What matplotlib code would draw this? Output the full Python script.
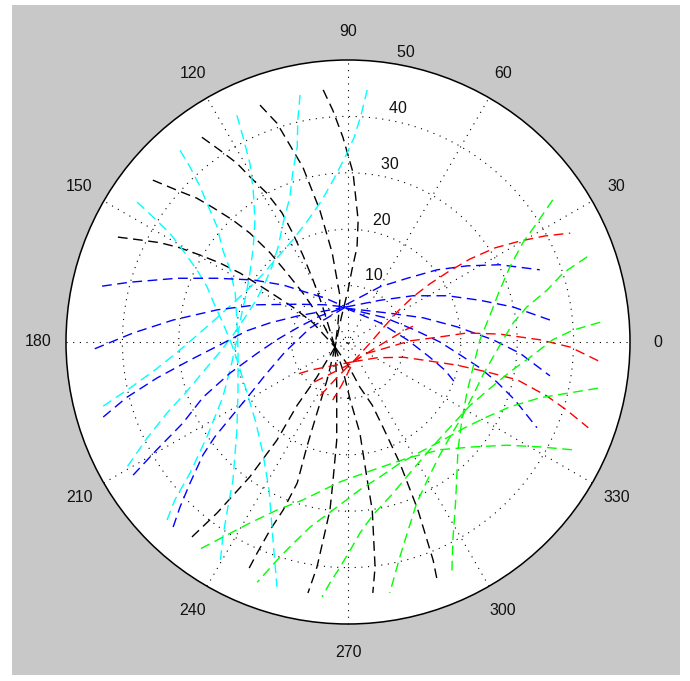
import numpy as np
import matplotlib
matplotlib.use("Agg")
import matplotlib.pyplot as plt
from matplotlib.patches import Rectangle, Circle

# ---------------- data (x = r*cos(theta), y = r*sin(theta), r in polar units) -------------
ring_values = [10, 20, 30, 40]
rmax = 50
spoke_angles = [0, 30, 60, 90, 120, 150]
angle_labels = [0, 30, 60, 90, 120, 150, 180, 210, 240, 270, 300, 330]

black_x = [
    [-4.4, -2.7, -0.9, 0.9, 1.8, 1.6, 0.7, 0.0, -1.2, -2.3],
    [-15.6, -12.6, -10.3, -8.0, -5.0, -2.8, -1.4, -1.8, -2.3],
    [-25.9, -22.7, -19.7, -17.4, -14.4, -11.7, -9.8, -8.0, -6.2, -4.6, -2.3],
    [-34.6, -30.3, -26.8, -23.9, -20.4, -17.4, -13.8, -10.8, -8.0, -5.0, -2.3],
    [-40.8, -36.9, -33.3, -29.8, -26.2, -22.7, -19.1, -14.4, -9.8, -6.2, -2.3],
    [-2.3, -0.9, 0.4, 2.1, 3.5, 4.3, 4.8, 4.4],
    [-2.3, 0.0, 2.1, 4.3, 6.2, 9.2, 12.4, 15.1, 15.8],
    [-2.3, -5.5, -9.0, -12.6, -17.4, -23.2, -27.7],
    [-2.3, -3.7, -5.5, -7.3, -9.0, -11.5, -13.8, -16.1, -17.9],
    [-2.3, -2.0, -2.0, -2.7, -3.2, -4.4, -5.5, -7.1],
]
black_y = [
    [44.7, 41.1, 36.3, 30.0, 21.6, 16.8, 12.8, 9.2, 4.3, -0.9],
    [42.0, 38.8, 34.9, 31.0, 23.4, 15.8, 8.0, 3.0, -0.9],
    [36.3, 34.0, 31.7, 29.3, 26.4, 22.9, 19.3, 15.4, 11.0, 6.6, -0.9],
    [28.7, 26.9, 25.5, 23.8, 21.6, 19.3, 15.8, 12.2, 8.7, 4.3, -0.9],
    [18.6, 18.1, 17.6, 16.7, 15.4, 14.0, 12.2, 9.2, 6.2, 3.4, -0.9],
    [-0.9, -5.0, -10.3, -16.1, -25.0, -29.8, -39.9, -44.5],
    [-0.9, -4.1, -8.0, -11.2, -15.1, -21.5, -29.8, -38.7, -42.2],
    [-0.9, -6.2, -11.2, -17.4, -23.9, -30.3, -34.6],
    [-0.9, -6.7, -12.6, -18.6, -25.0, -29.8, -33.3, -37.4, -40.8],
    [-0.9, -7.3, -17.4, -25.0, -29.8, -35.1, -39.9, -44.5],
]

cyan_x = [
    [3.4, 2.3, 1.1, -0.5, -2.3, -4.6, -7.1, -9.8, -12.6, -15.2, -18.1, -20.9, -23.9, -27.1, -30.5, -34.0, -38.7, -43.6],
    [-8.5, -8.9, -9.0, -9.8, -10.3, -11.5, -12.4, -13.5, -14.7, -16.3, -18.3, -20.4, -22.9, -25.7, -28.7, -32.1, -35.6, -39.2],
    [-19.7, -18.6, -17.4, -16.8, -16.5, -16.8, -17.4, -18.1, -19.0, -19.7, -20.6, -22.2, -25.0, -28.0, -30.7, -32.1],
    [-29.8, -28.0, -26.2, -25.0, -23.2, -22.2, -20.9, -20.0, -19.7, -19.5, -19.5, -19.7, -20.4, -21.3, -22.2, -22.7],
    [-37.4, -34.6, -31.6, -29.3, -26.8, -25.0, -23.8, -22.2, -20.7, -19.5, -17.9, -16.3, -15.1, -14.0, -13.3, -12.6],
]
cyan_y = [
    [44.7, 40.2, 36.3, 32.8, 29.3, 25.2, 21.6, 18.1, 14.9, 11.9, 9.0, 6.4, 3.7, 0.9, -2.0, -4.8, -8.2, -11.5],
    [43.8, 39.4, 34.6, 30.0, 25.7, 21.1, 16.8, 13.3, 10.5, 7.4, 4.3, 1.2, -2.0, -5.3, -8.9, -12.6, -17.0, -22.2],
    [40.2, 36.3, 31.7, 26.9, 21.6, 16.8, 12.2, 8.3, 4.3, 0.4, -3.7, -9.8, -16.8, -23.2, -28.0, -31.6],
    [34.0, 31.0, 27.5, 24.6, 20.4, 16.3, 12.8, 8.7, 3.9, -1.4, -8.5, -15.6, -24.5, -29.3, -34.6, -39.5],
    [24.8, 22.2, 19.3, 16.3, 12.8, 9.8, 6.9, 3.4, -0.2, -3.7, -9.0, -14.4, -19.7, -26.2, -35.1, -43.4],
]

blue_x = [
    [-43.6, -38.7, -30.3, -23.2, -16.8, -11.5, -8.0, -4.1, -0.4],
    [-44.9, -38.1, -31.0, -23.2, -16.1, -9.0, -4.1, -0.4],
    [-43.4, -39.2, -33.9, -28.0, -22.7, -17.9, -13.8, -9.0, -0.4],
    [-38.1, -33.9, -29.3, -25.7, -20.9, -16.1, -12.6, -9.0, -5.0, -0.4],
    [-31.0, -29.8, -28.0, -25.7, -23.6, -20.9, -17.9, -14.7, -11.2, -6.7, -0.4],
    [-0.4, 5.7, 10.5, 15.8, 21.1, 26.9, 34.0],
    [-0.4, 5.7, 11.5, 17.6, 23.4, 29.3, 35.8],
    [-0.4, 7.4, 13.3, 19.3, 25.7, 30.5, 35.8],
    [-0.4, 5.7, 10.5, 14.5, 17.2, 19.3],
    [-0.4, 6.6, 11.9, 16.3, 19.9, 23.4, 26.4, 29.6, 33.5],
]
blue_y = [
    [9.9, 10.6, 11.3, 11.3, 11.0, 10.1, 9.0, 7.8, 6.2],
    [-1.2, 1.6, 3.9, 5.7, 6.6, 6.7, 6.6, 6.2],
    [-13.3, -9.8, -6.4, -3.2, -0.5, 2.0, 3.4, 4.6, 6.2],
    [-23.6, -19.1, -14.4, -9.8, -5.5, -2.0, 0.4, 2.5, 4.6, 6.2],
    [-32.8, -29.3, -25.0, -20.0, -16.8, -13.5, -9.9, -5.9, -1.8, 2.5, 6.2],
    [6.6, 9.8, 11.3, 12.8, 13.5, 13.7, 12.8],
    [6.2, 7.4, 8.2, 8.2, 7.4, 6.2, 3.9],
    [6.0, 5.1, 4.3, 2.7, 0.4, -2.0, -6.0],
    [6.0, 3.4, 0.4, -2.7, -5.0, -7.6],
    [6.0, 4.3, 2.1, 0.0, -2.3, -4.6, -7.1, -10.3, -15.2],
]

red_x = [
    [0.9, 3.9, 6.4, 8.9, 11.5, 14.5, 17.7, 21.6, 26.1, 30.5, 34.9, 39.4],
    [0.9, 3.4, 6.6, 11.0, 16.3, 21.1, 26.9, 34.0, 39.4, 44.7],
    [0.9, 5.1, 9.8, 13.3, 19.3, 24.6, 30.0, 35.3, 38.8, 42.6],
    [0.9, 4.3, 7.4, 10.1, 11.5],
    [0.9, -3.2, -6.7, -9.0],
    [0.4, -3.2, -6.4],
    [0.0, -2.7, -5.0],
    [0.5, -1.1, -2.7],
]
red_y = [
    [-3.5, -0.2, 2.7, 5.5, 8.0, 10.3, 12.4, 14.7, 16.7, 17.9, 18.8, 19.3],
    [-3.5, -2.0, -1.1, 0.2, 0.9, 1.6, 1.4, 0.4, -0.9, -3.5],
    [-3.5, -2.8, -2.7, -3.2, -4.1, -5.3, -6.7, -9.6, -12.1, -15.2],
    [-3.5, -1.4, 0.5, 2.1, 2.8],
    [-3.5, -4.3, -5.0, -5.7],
    [-3.9, -5.7, -7.3],
    [-4.3, -7.1, -9.6],
    [-4.4, -7.6, -10.3],
]

green_x = [
    [36.3, 33.5, 31.0, 28.7, 26.9, 25.2, 23.4, 22.2, 21.1, 20.2, 19.5, 19.1, 18.6, 18.4],
    [42.4, 38.1, 35.3, 31.7, 29.3, 27.5, 25.7, 23.9, 22.2, 20.2, 18.1, 16.3, 14.5, 12.2, 10.5, 9.2, 7.4],
    [44.7, 39.9, 36.3, 32.3, 28.7, 25.2, 21.6, 18.1, 14.5, 11.0, 8.0, 4.4, 2.1, 0.4, -1.4, -3.2, -4.6],
    [44.3, 39.4, 34.0, 28.7, 24.6, 20.7, 16.8, 12.8, 9.2, 5.7, 2.1, -2.0, -6.7, -10.3, -12.6, -16.1],
    [39.7, 34.0, 28.2, 22.2, 16.3, 10.5, 4.4, -1.4, -8.0, -12.6, -17.4, -22.2, -26.6],
]
green_y = [
    [25.2, 21.1, 17.6, 13.3, 9.2, 4.8, 0.4, -4.4, -8.9, -13.8, -19.1, -28.0, -35.1, -41.3],
    [15.1, 12.2, 9.2, 6.2, 3.4, 0.4, -2.7, -5.9, -9.4, -13.3, -16.8, -20.0, -23.6, -28.5, -33.9, -38.1, -44.5],
    [3.5, 2.1, 0.4, -2.7, -5.3, -8.2, -11.3, -15.1, -19.1, -23.2, -26.8, -30.7, -33.9, -36.9, -39.9, -42.7, -45.2],
    [-8.2, -9.0, -9.9, -11.5, -13.3, -15.2, -17.4, -19.5, -21.5, -23.9, -26.2, -29.3, -32.8, -36.3, -38.7, -42.6],
    [-19.1, -18.6, -18.3, -18.6, -19.1, -20.6, -22.7, -24.8, -28.0, -29.8, -32.1, -34.6, -36.9],
]

series = [
    (black_x, black_y, "#000000"),
    (cyan_x, cyan_y, "#00ffff"),
    (blue_x, blue_y, "#0000ff"),
    (red_x, red_y, "#ff0000"),
    (green_x, green_y, "#00ff00"),
]

# ---------------- figure ----------------
W, H = 690, 681
fig = plt.figure(figsize=(W / 100, H / 100), dpi=100, facecolor="white")
fig.patches.append(Rectangle((12 / W, 6 / H), 668 / W, 670 / H, transform=fig.transFigure,
                             facecolor="#c8c8c8", edgecolor="none", zorder=-10))

cx, cy, scale = 348, 342, 5.64   # pixel centre and pixels per unit
lim = 56
ax = fig.add_axes([(cx - lim * scale) / W, (H - cy - lim * scale) / H,
                   2 * lim * scale / W, 2 * lim * scale / H])
ax.set_xlim(-lim, lim)
ax.set_ylim(-lim, lim)
ax.axis("off")

font = ["Liberation Sans", "DejaVu Sans"]
dotted = (0, (1, 5))

ax.add_patch(Circle((0, 0), rmax, facecolor="white", edgecolor="none", zorder=0))
for r in ring_values:
    ax.add_patch(Circle((0, 0), r, fill=False, edgecolor="black", lw=0.8, ls=dotted, zorder=1))
for a in spoke_angles:
    t = np.deg2rad(a)
    ax.plot([-rmax * np.cos(t), rmax * np.cos(t)], [-rmax * np.sin(t), rmax * np.sin(t)],
            color="black", lw=0.8, ls=dotted, zorder=1)
ax.add_patch(Circle((0, 0), rmax, fill=False, edgecolor="black", lw=1.1, zorder=3))

c82, s82 = np.cos(np.deg2rad(82)), np.sin(np.deg2rad(82))
for r in ring_values + [rmax]:
    ax.text((r + 0.5) * c82, (r + 0.5) * s82, "  " + str(r), ha="left", va="bottom",
            fontsize=11.5, family=font, color="#111111", zorder=4)
for a in angle_labels:
    t = np.deg2rad(a)
    ax.text(1.1 * rmax * np.cos(t), 1.1 * rmax * np.sin(t), str(a), ha="center", va="center",
            fontsize=11.5, family=font, color="#111111")

for xs, ys, col in series:
    for x, y in zip(xs, ys):
        ax.plot(x, y, color=col, lw=1.0, ls=(0, (7, 4)), zorder=2)

fig.savefig("out.png", dpi=100, facecolor="white")
